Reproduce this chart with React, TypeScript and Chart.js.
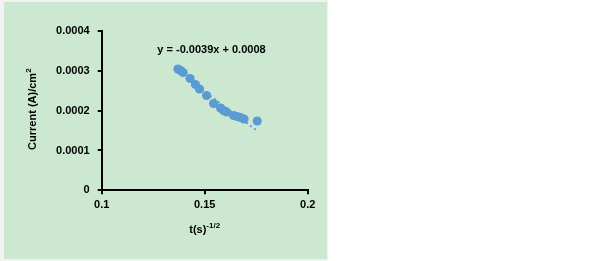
import React, { useEffect, useRef } from "react";
import { Chart, registerables } from "chart.js";

Chart.register(...registerables);

// Data
const xValues = [0.137, 0.1383, 0.1395, 0.1429, 0.1455, 0.1475, 0.1509, 0.1543, 0.1577, 0.1591, 0.1606, 0.164, 0.1657, 0.1674, 0.1691, 0.1755];
const yValues = [0.0003046, 0.0003008, 0.0002958, 0.0002807, 0.0002657, 0.0002544, 0.000238, 0.000218, 0.0002067, 0.0002004, 0.0001966, 0.0001878, 0.0001853, 0.0001828, 0.000179, 0.000174];
const xTickLabels = ["0.1", "0.15", "0.2"];
const yTickLabels = ["0", "0.0001", "0.0002", "0.0003", "0.0004"];
const xTitleMain = "t(s)";
const xTitleSup = "-1/2";
const yTitleMain = "Current (A)/cm";
const yTitleSup = "2";
const equationText = "y = -0.0039x + 0.0008";

const FONT = '"Liberation Sans", Arial, sans-serif';
const BLUE = "#5b9bd5";

function regression(xs: number[], ys: number[]) {
  const n = xs.length;
  const mx = xs.reduce((a, b) => a + b, 0) / n;
  const my = ys.reduce((a, b) => a + b, 0) / n;
  let sxy = 0, sxx = 0;
  for (let i = 0; i < n; i++) {
    sxy += (xs[i] - mx) * (ys[i] - my);
    sxx += (xs[i] - mx) * (xs[i] - mx);
  }
  const m = sxy / sxx;
  return { m, b: my - m * mx };
}

export default function App() {
  const ref = useRef<HTMLCanvasElement | null>(null);

  useEffect(() => {
    document.body.style.margin = "0";
    const canvas = ref.current;
    if (!canvas) return;
    const { m, b } = regression(xValues, yValues);
    const xmin = Math.min(...xValues);
    const xmax = Math.max(...xValues);
    const trend = [
      { x: xmin, y: m * xmin + b },
      { x: xmax, y: m * xmax + b },
    ];

    const titlePlugin = {
      id: "titles",
      afterDraw(chart: any) {
        const ctx = chart.ctx as CanvasRenderingContext2D;
        const area = chart.chartArea;
        ctx.save();
        ctx.fillStyle = "#000";
        ctx.textBaseline = "middle";
        ctx.textAlign = "left";
        const drawSup = (main: string, sup: string, cx: number, cy: number) => {
          ctx.font = `bold 11px ${FONT}`;
          const w1 = ctx.measureText(main).width;
          ctx.font = `bold 8px ${FONT}`;
          const w2 = ctx.measureText(sup).width;
          const sx = cx - (w1 + w2) / 2;
          ctx.font = `bold 11px ${FONT}`;
          ctx.fillText(main, sx, cy);
          ctx.font = `bold 8px ${FONT}`;
          ctx.fillText(sup, sx + w1, cy - 4);
        };
        const cx = (area.left + area.right) / 2;
        drawSup(xTitleMain, xTitleSup, cx, 230);
        ctx.save();
        ctx.translate(33, (area.top + area.bottom) / 2 - 1.5);
        ctx.rotate(-Math.PI / 2);
        drawSup(yTitleMain, yTitleSup, 0, 0);
        ctx.restore();
        ctx.font = `bold 11px ${FONT}`;
        ctx.textAlign = "center";
        ctx.fillText(equationText, 211.5, 49.5);
        ctx.restore();
      },
    };

    const chart = new Chart(canvas, {
      type: "scatter",
      data: {
        datasets: [
          {
            data: xValues.map((x, i) => ({ x, y: yValues[i] })),
            backgroundColor: BLUE,
            borderWidth: 0,
            pointRadius: 4.6,
            pointHoverRadius: 4.6,
            order: 1,
          },
          {
            type: "line",
            data: trend,
            borderColor: BLUE,
            borderWidth: 2,
            borderDash: [2, 3],
            pointRadius: 0,
            fill: false,
            order: 2,
          } as any,
        ],
      },
      options: {
        animation: false,
        responsive: false,
        maintainAspectRatio: false,
        layout: { padding: { left: 41.7, right: 297.3, top: 31, bottom: 50.7 } },
        plugins: { legend: { display: false }, tooltip: { enabled: false }, title: { display: false } },
        scales: {
          x: {
            type: "linear",
            min: 0.1,
            max: 0.2,
            afterFit: (s: any) => { s.height = 20; },
            afterBuildTicks: (s: any) => {
              s.ticks = xTickLabels.map((l) => ({ value: parseFloat(l) }));
            },
            ticks: {
              callback: (_v: any, i: number) => xTickLabels[i],
              font: { family: FONT, size: 11, weight: "bold" },
              color: "#000",
              padding: 4,
              maxRotation: 0,
            },
            grid: { display: true, drawOnChartArea: false, drawTicks: true, tickLength: 4, color: "#000", lineWidth: 2 },
            border: { display: true, color: "#000", width: 2 },
          },
          y: {
            type: "linear",
            min: 0,
            max: 0.0004,
            afterFit: (s: any) => { s.width = 60; },
            afterBuildTicks: (s: any) => {
              s.ticks = yTickLabels.map((l) => ({ value: parseFloat(l) }));
            },
            ticks: {
              callback: (_v: any, i: number) => yTickLabels[i],
              font: { family: FONT, size: 11, weight: "bold" },
              color: "#000",
              padding: 8,
            },
            grid: { display: true, drawOnChartArea: false, drawTicks: true, tickLength: 4, color: "#000", lineWidth: 2 },
            border: { display: true, color: "#000", width: 2 },
          },
        },
      },
      plugins: [titlePlugin],
    } as any);
    return () => chart.destroy();
  }, []);

  return (
    <div style={{ position: "absolute", left: 0, top: 0, width: 605, height: 261, background: "#ffffff", overflow: "hidden" }}>
      <div style={{ position: "absolute", left: 0, top: 0, width: 328, height: 261, background: "#f2f2f2" }} />
      <div style={{ position: "absolute", left: 4, top: 2, width: 323, height: 257, background: "#cde8d0" }} />
      <canvas ref={ref} width={605} height={261} style={{ position: "absolute", left: 0, top: 0, width: 605, height: 261 }} />
    </div>
  );
}
